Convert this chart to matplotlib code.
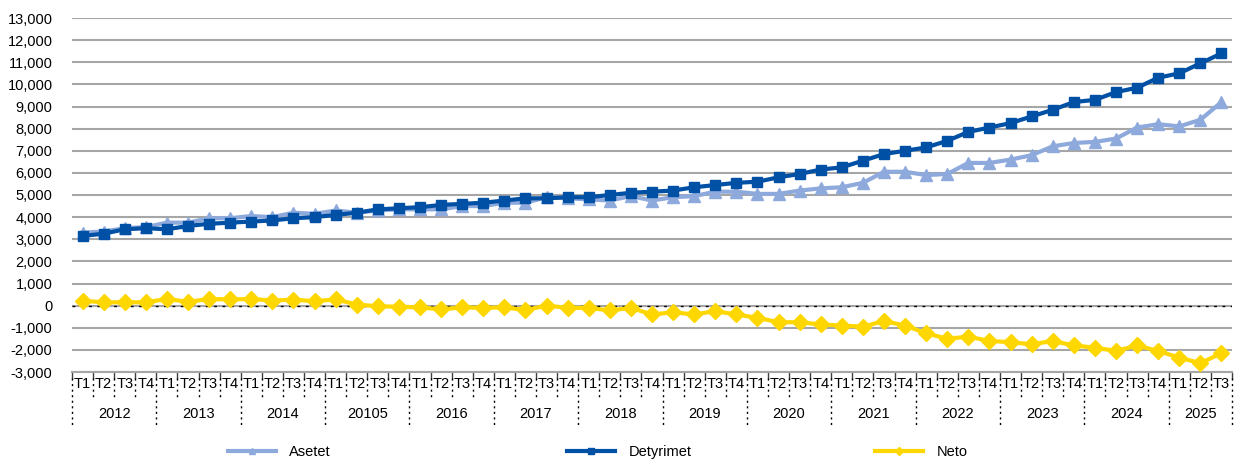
import matplotlib
import matplotlib.pyplot as plt
import numpy as np
from matplotlib.lines import Line2D
from matplotlib.ticker import FuncFormatter
from matplotlib.transforms import blended_transform_factory

matplotlib.use("Agg")

plt.rcParams.update({
    "font.family": ["Liberation Sans", "DejaVu Sans"],
    "font.size": 10,
})

years = ["2012", "2013", "2014", "20105", "2016", "2017", "2018",
         "2019", "2020", "2021", "2022", "2023", "2024", "2025"]
quarters = ["T1", "T2", "T3", "T4"]

asetet = [
    3300, 3350, 3500, 3550,
    3750, 3750, 3950, 3950,
    4050, 4000, 4200, 4150,
    4300, 4200, 4300, 4350,
    4350, 4350, 4500, 4500,
    4650, 4650, 4900, 4850,
    4800, 4750, 4950, 4750,
    4900, 4950, 5150, 5150,
    5050, 5050, 5200, 5300,
    5350, 5550, 6050, 6050,
    5900, 5950, 6450, 6450,
    6600, 6800, 7200, 7350,
    7400, 7550, 8050, 8200,
    8100, 8400, 9200,
]
detyrimet = [
    3150, 3250, 3450, 3500,
    3450, 3600, 3700, 3750,
    3800, 3850, 3950, 4000,
    4100, 4200, 4350, 4400,
    4450, 4550, 4600, 4650,
    4750, 4850, 4850, 4900,
    4900, 5000, 5100, 5150,
    5200, 5350, 5450, 5550,
    5600, 5800, 5950, 6150,
    6250, 6550, 6850, 7000,
    7150, 7450, 7850, 8050,
    8250, 8550, 8850, 9200,
    9300, 9650, 9850, 10300,
    10500, 10950, 11400,
]
neto = [
    220, 150, 150, 150,
    300, 170, 300, 280,
    300, 230, 270, 200,
    280, 50, -30, -50,
    -80, -170, -80, -100,
    -80, -200, 0, -100,
    -100, -220, -100, -400,
    -300, -400, -250, -400,
    -550, -750, -750, -850,
    -900, -950, -700, -900,
    -1250, -1500, -1400, -1600,
    -1650, -1750, -1600, -1800,
    -1900, -2050, -1800, -2050,
    -2350, -2600, -2150,
]

labels_q = [quarters[i % 4] for i in range(len(asetet))]
x = np.arange(len(asetet))

series = [
    ("Asetet", asetet, "#8eaadc", "^", 8),
    ("Detyrimet", detyrimet, "#0050a5", "s", 7),
    ("Neto", neto, "#ffd700", "D", 8),
]

fig = plt.figure(figsize=(12.46, 4.63), dpi=100)
ax = fig.add_axes([72 / 1246, 91 / 463, 1160 / 1246, 354 / 463])

for name, vals, color, mk, ms in series:
    ax.plot(x, vals, color=color, lw=3, marker=mk, ms=ms, label=name,
            zorder=4 if name == "Detyrimet" else 3)

ax.set_xlim(-0.5, len(x) - 0.5)
ax.set_ylim(-3000, 13000)
ax.set_yticks(np.arange(-3000, 13001, 1000))
ax.yaxis.set_major_formatter(FuncFormatter(lambda v, p: f"{int(v):,}"))
ax.tick_params(axis="y", length=0, pad=14, labelsize=10.5)
ax.grid(axis="y", color="#a6a6a6", lw=1.5, zorder=0)
ax.set_axisbelow(True)
for s in ["top", "right", "left"]:
    ax.spines[s].set_visible(False)
ax.spines["bottom"].set_color("#a6a6a6")
ax.spines["bottom"].set_linewidth(1.5)

# boundaries between categories
ax.set_xticks(np.arange(-0.5, len(x), 1))
ax.set_xticklabels([])
ax.tick_params(axis="x", length=5, color="#404040", width=1)

# dashed line at zero
ax.axhline(0, color="black", lw=1, ls=(0, (2, 4)), zorder=1)

trans = blended_transform_factory(ax.transData, ax.transAxes)
for i, q in enumerate(labels_q):
    ax.text(i, -0.035, q, transform=trans, ha="center", va="center", fontsize=10.5)
for b in np.arange(-0.5, len(x), 1):
    year_edge = int(b + 0.5) % 4 == 0 or b == len(x) - 0.5
    y_end = -0.155 if year_edge else -0.075
    ax.plot([b, b], [-0.018, y_end], transform=trans, color="black",
            lw=1, ls=(0, (1.5, 2.5)), clip_on=False)
for k, yr in enumerate(years):
    start = k * 4
    end = min(start + 4, len(x))
    ax.text((start + end - 1) / 2, -0.118, yr, transform=trans,
            ha="center", va="center", fontsize=10.5)

# one legend per series, spread along the bottom
leg_x = [228, 567, 875]
for (name, vals, color, mk, ms), lx in zip(series, leg_x):
    h = Line2D([], [], color=color, lw=3, marker=mk, ms=4.5)
    leg = fig.legend([h], [name], loc="center left",
                     bbox_to_anchor=(lx / 1246, 1 - 452 / 463),
                     frameon=False, handlelength=3.3, handletextpad=0.9,
                     fontsize=10.5, borderpad=0, borderaxespad=0)

fig.savefig("out.png", dpi=100)
